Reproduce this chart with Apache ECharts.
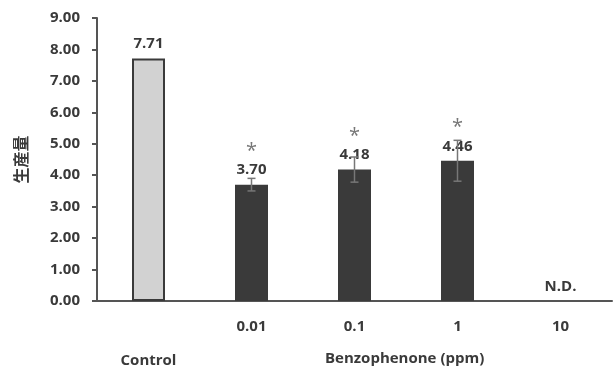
<!DOCTYPE html>
<html>
<head>
<meta charset="utf-8">
<script src="https://cdn.jsdelivr.net/npm/echarts@6/dist/echarts.min.js"></script>
<style>
    html, body { margin: 0; padding: 0; background: #fff; }
    #chart { width: 614px; height: 374px; }
</style>
</head>
<body>
<div id="chart"></div>
<script>
// 数据
var categories = ['Control', '0.01', '0.1', '1', '10'];
var values = [7.71, 3.70, 4.18, 4.46, 0];
var errors = [0, 0.2, 0.4, 0.65, 0];
var valueLabels = ['7.71', '3.70', '4.18', '4.46', 'N.D.'];
var stars = ['', '*', '*', '*', ''];
var yTicks = [0, 1, 2, 3, 4, 5, 6, 7, 8, 9];

window.onload = function () {
    var chart = echarts.init(document.getElementById('chart'));
    var textColor = '#3a3a3a';
    var font = '"Open Sans", sans-serif';

    var barData = values.map(function (v, i) {
        var item = {
            value: v,
            label: {
                show: true,
                position: 'top',
                distance: 6,
                formatter: stars[i] ? '{s|*}\n{v|' + valueLabels[i] + '}' : '{v|' + valueLabels[i] + '}'
            }
        };
        if (i === 0) {
            item.itemStyle = { color: '#d2d2d2', borderColor: '#3a3a3a', borderWidth: 2 };
        }
        return item;
    });

    var option = {
        animation: false,
        grid: { left: 97, right: 2, top: 18, bottom: 73 },
        xAxis: {
            type: 'category',
            data: categories,
            axisTick: { show: false },
            axisLine: { lineStyle: { color: '#555', width: 2 } },
            axisLabel: {
                interval: 0,
                margin: 18,
                color: textColor,
                fontFamily: font,
                fontWeight: 'bold',
                fontSize: 15,
                formatter: function (val) {
                    return val === 'Control' ? '{c|Control}' : val;
                },
                rich: {
                    c: { padding: [34, 0, 0, 0], color: textColor, fontFamily: font, fontWeight: 'bold', fontSize: 15 }
                }
            }
        },
        yAxis: {
            type: 'value',
            min: yTicks[0],
            max: yTicks[yTicks.length - 1],
            interval: 1,
            name: '生産量',
            nameLocation: 'middle',
            nameGap: 68,
            nameRotate: 90,
            nameTextStyle: { color: textColor, fontFamily: '"Noto Sans CJK JP"', fontWeight: 'bold', fontSize: 16 },
            splitLine: { show: false },
            axisLine: { show: true, lineStyle: { color: '#555', width: 2 } },
            axisTick: { show: true, length: 5, lineStyle: { color: '#555', width: 2 } },
            axisLabel: {
                margin: 17,
                color: textColor,
                fontFamily: font,
                fontWeight: 'bold',
                fontSize: 15,
                formatter: function (v) { return v.toFixed(2); }
            }
        },
        graphic: [{
            type: 'text',
            left: 325,
            top: 351,
            style: {
                text: 'Benzophenone (ppm)',
                fill: textColor,
                font: 'bold 15px "Open Sans", sans-serif'
            }
        }],
        series: [
            {
                type: 'bar',
                barWidth: 33,
                itemStyle: { color: '#3a3a3a' },
                label: {
                    rich: {
                        s: { color: '#777', fontSize: 20, fontFamily: font, lineHeight: 20, align: 'center' },
                        v: { color: textColor, fontSize: 15, fontFamily: font, fontWeight: 'bold', lineHeight: 17, align: 'center' }
                    }
                },
                data: barData,
                z: 2
            },
            {
                type: 'custom',
                z: 3,
                renderItem: function (params, api) {
                    var i = api.value(0);
                    var v = api.value(1);
                    var e = api.value(2);
                    if (!e) return null;
                    var top = api.coord([i, v + e]);
                    var bot = api.coord([i, v - e]);
                    var w = 4;
                    var st = { stroke: '#777', lineWidth: 1.5 };
                    return {
                        type: 'group',
                        children: [
                            { type: 'line', shape: { x1: top[0], y1: top[1], x2: bot[0], y2: bot[1] }, style: st },
                            { type: 'line', shape: { x1: top[0] - w, y1: top[1], x2: top[0] + w, y2: top[1] }, style: st },
                            { type: 'line', shape: { x1: bot[0] - w, y1: bot[1], x2: bot[0] + w, y2: bot[1] }, style: st }
                        ]
                    };
                },
                data: values.map(function (v, i) { return [i, v, errors[i]]; })
            }
        ]
    };
    chart.setOption(option);
};
</script>
</body>
</html>
